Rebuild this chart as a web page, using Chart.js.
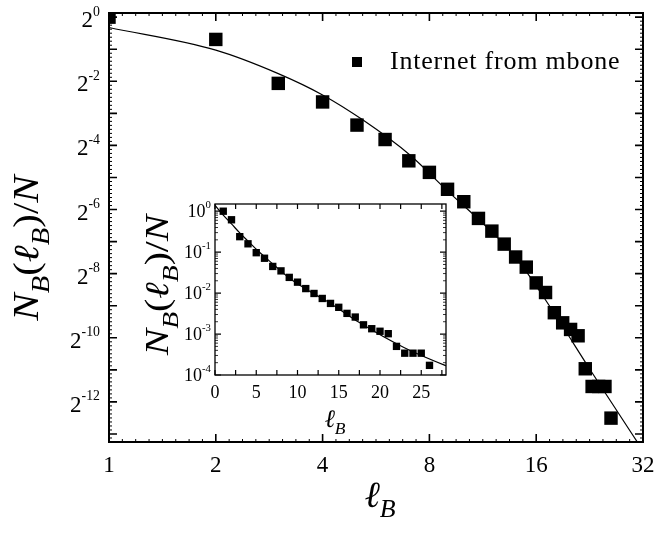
<!DOCTYPE html>
<html>
<head>
<meta charset="utf-8">
<script src="https://cdn.jsdelivr.net/npm/chart.js@4.4.1/dist/chart.umd.min.js"></script>
<style>
    html, body { margin: 0; padding: 0; background: #fff; }
    #wrap { position: relative; width: 656px; height: 533px; }
    #main { position: absolute; left: 0; top: 0; }
    #inset { position: absolute; left: 130px; top: 190px; }
</style>
</head>
<body>
<div id="wrap">
    <canvas id="main" width="656" height="533"></canvas>
    <canvas id="inset" width="330" height="250"></canvas>
</div>
<script>
// Data
const boxSizes = [1, 2, 3, 4, 5, 6, 7, 8, 9, 10, 11, 12, 13, 14, 15, 16, 17, 18, 19, 20, 21, 22, 23, 24, 25, 26];
const boxFractions = [1.0, 0.618, 0.239, 0.160, 0.097, 0.071, 0.0448, 0.0349, 0.0242, 0.0185, 0.0129, 0.0098, 0.0074,
    0.0056, 0.0045, 0.0032, 0.0026, 0.00168, 0.00135, 0.00117, 0.00102, 0.00050, 0.000341, 0.000341, 0.000341, 0.000172];

// fitted curve, read at a handful of places
const fitSizes = [0, 1, 2, 3, 4, 5.2, 7.05, 8.95, 11.85, 14, 17.5, 22.9, 28, 31];
const fitFractions = [1.4, 0.80, 0.49, 0.295, 0.186, 0.108, 0.0508, 0.0238, 0.0100, 0.0056, 0.00191, 0.000469, 0.000168, 0.000100];

const mainXTicks = [1, 2, 4, 8, 16, 32];
const mainYExponents = [0, -1, -2, -3, -4, -5, -6, -7, -8, -9, -10, -11, -12, -13];
const insetXTicks = [0, 5, 10, 15, 20, 25];
const insetXMinor = [2.5, 7.5, 12.5, 17.5, 22.5, 27.5];
const insetYExponents = [0, -1, -2, -3, -4];
const legendLabel = 'Internet from mbone';

const boxPoints = boxSizes.map((l, i) => ({ x: l, y: boxFractions[i] }));
const fitPoints = fitSizes.map((l, i) => ({ x: l, y: fitFractions[i] }));

// Text helpers
const SERIF = '"Liberation Serif", "DejaVu Serif", serif';
const setFont = (ctx, size, italic) => {
    ctx.font = `${italic ? 'italic ' : ''}${size}px ${SERIF}`;
};

const drawPieces = (ctx, pieces, x, y, align) => {
    let total = 0;
    pieces.forEach(p => {
        setFont(ctx, p.size, p.italic);
        p.w = ctx.measureText(p.text).width;
        total += p.w;
    });
    let cx = align === 'right' ? x - total : align === 'center' ? x - total / 2 : x;
    pieces.forEach(p => {
        setFont(ctx, p.size, p.italic);
        ctx.fillText(p.text, cx, y + (p.dy || 0));
        cx += p.w;
    });
};

const ratioPieces = (size) => [
    { text: 'N', size, italic: true },
    { text: 'B', size: size * 0.7, italic: true, dy: size * 0.3 },
    { text: '(', size },
    { text: 'ℓ', size, italic: true },
    { text: 'B', size: size * 0.7, italic: true, dy: size * 0.3 },
    { text: ')', size },
    { text: '/', size },
    { text: 'N', size, italic: true }
];
const lengthPieces = (size) => [
    { text: 'ℓ', size, italic: true },
    { text: 'B', size: size * 0.7, italic: true, dy: size * 0.28 }
];
const powerPieces = (base, exp, size) => [
    { text: base, size },
    { text: String(exp), size: size * 0.6, dy: -size * 0.5 }
];

const strokeMarks = (ctx, marks, width) => {
    ctx.lineWidth = width;
    ctx.beginPath();
    marks.forEach(([x1, y1, x2, y2]) => {
        ctx.moveTo(x1, y1);
        ctx.lineTo(x2, y2);
    });
    ctx.stroke();
};

// the original uses a wide TeX font, so the titles get stretched a little along the text
const drawRotated = (ctx, pieces, x, y, stretch) => {
    ctx.save();
    ctx.translate(x, y);
    ctx.rotate(-Math.PI / 2);
    ctx.scale(stretch, 1);
    drawPieces(ctx, pieces, 0, 0, 'center');
    ctx.restore();
};

// Frame, ticks and labels for the main plot
const mainFrame = {
    id: 'mainFrame',
    afterDraw(chart) {
        const { ctx, chartArea: a, scales: { x, y } } = chart;
        ctx.save();
        ctx.strokeStyle = '#000';
        ctx.fillStyle = '#000';
        ctx.textAlign = 'left';
        ctx.textBaseline = 'alphabetic';

        const major = [], minor = [];
        const vTick = (list, px, len) => list.push([px, a.bottom, px, a.bottom - len], [px, a.top, px, a.top + len]);
        const hTick = (list, py, len) => list.push([a.left, py, a.left + len, py], [a.right, py, a.right - len, py]);

        mainXTicks.forEach(v => vTick(major, x.getPixelForValue(v), 8));
        mainXTicks.slice(0, -1).forEach(v => {
            for (let k = 1; k < 8; k++) vTick(minor, x.getPixelForValue(v * 2 ** (k / 8)), 3);
        });
        mainYExponents.forEach(e => hTick(major, y.getPixelForValue(2 ** e), 8));
        [1, ...mainYExponents].forEach(e => {
            for (let k = 1; k < 8; k++) {
                const py = y.getPixelForValue(2 ** (e - k / 8));
                if (py > a.top + 1 && py < a.bottom - 1) hTick(minor, py, 3);
            }
        });
        strokeMarks(ctx, major, 1.6);
        strokeMarks(ctx, minor, 1);
        ctx.lineWidth = 2;
        ctx.strokeRect(a.left, a.top, a.width, a.height);

        // tick labels
        mainXTicks.forEach(v => drawPieces(ctx, [{ text: String(v), size: 23 }], x.getPixelForValue(v), a.bottom + 30, 'center'));
        mainYExponents.filter(e => e % 2 === 0).forEach(e => {
            const py = y.getPixelForValue(2 ** e);
            drawPieces(ctx, powerPieces('2', e, 23), a.left - 9, py + 10, 'right');
        });

        // axis titles
        drawRotated(ctx, ratioPieces(35), 38, 248, 1.17);
        drawPieces(ctx, lengthPieces(37), 380, 507, 'center');

        // legend
        ctx.fillRect(352, 57, 10, 10);
        ctx.letterSpacing = '0.8px';
        drawPieces(ctx, [{ text: legendLabel, size: 26 }], 390, 69, 'left');
        ctx.letterSpacing = '0px';
        ctx.restore();
    }
};

// Frame, ticks and labels for the inset
const insetFrame = {
    id: 'insetFrame',
    afterDraw(chart) {
        const { ctx, chartArea: a, scales: { x, y } } = chart;
        ctx.save();
        ctx.strokeStyle = '#000';
        ctx.fillStyle = '#000';
        ctx.textAlign = 'left';
        ctx.textBaseline = 'alphabetic';

        const major = [], minor = [];
        [...insetXTicks, ...insetXMinor].forEach(v => {
            const px = x.getPixelForValue(v);
            major.push([px, a.bottom, px, a.bottom - 5], [px, a.top, px, a.top + 5]);
        });
        insetYExponents.forEach(e => {
            const py = y.getPixelForValue(10 ** e);
            major.push([a.left, py, a.left + 6, py], [a.right, py, a.right - 6, py]);
            for (let m = 2; m < 10; m++) {
                const my = y.getPixelForValue(m * 10 ** e);
                if (my > a.top + 1) minor.push([a.left, my, a.left + 3, my], [a.right, my, a.right - 3, my]);
            }
        });
        strokeMarks(ctx, major, 1.2);
        strokeMarks(ctx, minor, 0.8);
        ctx.lineWidth = 1.3;
        ctx.strokeRect(a.left, a.top, a.width, a.height);

        insetXTicks.forEach(v => drawPieces(ctx, [{ text: String(v), size: 18 }], x.getPixelForValue(v), a.bottom + 23, 'center'));
        insetYExponents.forEach(e => {
            const py = y.getPixelForValue(10 ** e);
            drawPieces(ctx, powerPieces('10', e, 18), a.left - 4, py + 6, 'right');
        });

        drawRotated(ctx, ratioPieces(33), 38, 95, 1.2);
        drawPieces(ctx, lengthPieces(25), 205, 237, 'center');
        ctx.restore();
    }
};

const lineDataset = (points) => ({
    data: points,
    showLine: true,
    borderColor: '#000',
    borderWidth: 1.2,
    pointRadius: 0,
    cubicInterpolationMode: 'monotone',
    clip: 0
});
const boxDataset = (radius) => ({
    data: boxPoints,
    pointStyle: 'rect',
    pointRadius: radius,
    backgroundColor: '#000',
    borderColor: '#000',
    pointBorderWidth: 0,
    clip: 0
});

const baseOptions = {
    responsive: false,
    animation: false,
    events: [],
    plugins: { legend: { display: false }, tooltip: { enabled: false } }
};

new Chart(document.getElementById('main'), {
    type: 'scatter',
    data: {
        datasets: [lineDataset(fitPoints.filter(p => p.x >= 1)), boxDataset(9.5)]
    },
    options: {
        ...baseOptions,
        layout: { padding: { left: 109, right: 13, top: 13, bottom: 91 } },
        scales: {
            x: { type: 'logarithmic', min: 1, max: 32, display: false },
            y: { type: 'logarithmic', min: 2 ** -13.25, max: 2 ** 0.13, display: false }
        }
    },
    plugins: [mainFrame]
});

new Chart(document.getElementById('inset'), {
    type: 'scatter',
    data: {
        datasets: [lineDataset(fitPoints), boxDataset(5.2)]
    },
    options: {
        ...baseOptions,
        layout: { padding: { left: 85, right: 14, top: 14, bottom: 65 } },
        scales: {
            x: { type: 'linear', min: 0, max: 28, display: false },
            y: { type: 'logarithmic', min: 1e-4, max: 1.5, display: false }
        }
    },
    plugins: [insetFrame]
});
</script>
</body>
</html>
